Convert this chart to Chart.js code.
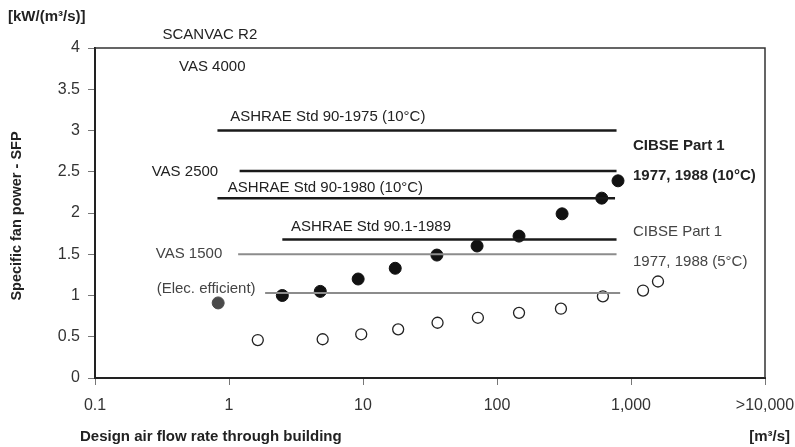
<!DOCTYPE html>
<html lang="en">
<head>
    <meta charset="UTF-8">
    <title>Specific fan power vs design air flow</title>
    <script src="https://cdn.jsdelivr.net/npm/chart.js"></script>
    <style>
        body {
            margin: 0;
            padding: 0;
            background-color: #fff;
        }

        .chart-container {
            width: 795px;
            height: 447px;
        }
    </style>
</head>
<body>
    <div class="chart-container">
        <canvas id="chart"></canvas>
    </div>

    <script>
        // tick values
        const xTicks = [0.1, 1, 10, 100, 1000, 10000];
        const xTickLabels = ['0.1', '1', '10', '100', '1,000', '>10,000'];

        // measured buildings, filled dots (10°C)
        const filledX = [0.83, 2.5, 4.8, 9.2, 17.4, 35.6, 71, 146, 306, 605, 800];
        const filledY = [0.91, 1.0, 1.05, 1.2, 1.33, 1.49, 1.6, 1.72, 1.99, 2.18, 2.39];

        // open circles (5°C)
        const openX = [1.64, 5.0, 9.7, 18.3, 36, 72, 146, 300, 617, 1230, 1590];
        const openY = [0.46, 0.47, 0.53, 0.59, 0.67, 0.73, 0.79, 0.84, 0.99, 1.06, 1.17];

        // reference levels: [from, to, value]
        const blackLevels = [
            [0.82, 780, 3.0],   // ASHRAE Std 90-1975
            [1.2, 780, 2.51],   // VAS 2500
            [0.82, 760, 2.18],  // ASHRAE Std 90-1980
            [2.5, 780, 1.68]    // ASHRAE Std 90.1-1989
        ];
        const greyLevels = [
            [1.17, 780, 1.5],   // VAS 1500
            [1.86, 830, 1.03]   // Elec. efficient
        ];

        // annotations (data coordinates)
        const notes = [
            { text: 'SCANVAC R2', x: 0.72, y: 4.16, align: 'center' },
            { text: 'VAS 4000', x: 0.75, y: 3.77, align: 'center' },
            { text: 'ASHRAE Std 90-1975 (10°C)', x: 1.02, y: 3.16, align: 'left' },
            { text: 'VAS 2500', x: 0.83, y: 2.5, align: 'right' },
            { text: 'ASHRAE Std 90-1980 (10°C)', x: 0.98, y: 2.3, align: 'left' },
            { text: 'ASHRAE Std 90.1-1989', x: 2.9, y: 1.83, align: 'left' },
            { text: 'VAS 1500', x: 0.89, y: 1.5, align: 'right', color: '#444' },
            { text: '(Elec. efficient)', x: 1.58, y: 1.08, align: 'right', color: '#444' },
            { text: 'CIBSE Part 1', x: 1035, y: 2.81, align: 'left', bold: true },
            { text: '1977, 1988 (10°C)', x: 1035, y: 2.45, align: 'left', bold: true },
            { text: 'CIBSE Part 1', x: 1035, y: 1.77, align: 'left', color: '#444' },
            { text: '1977, 1988 (5°C)', x: 1035, y: 1.41, align: 'left', color: '#444' }
        ];

        const FONT = '"Liberation Sans", Arial, sans-serif';

        function levelDataset(level, color, width) {
            return {
                type: 'line',
                data: [{ x: level[0], y: level[2] }, { x: level[1], y: level[2] }],
                borderColor: color,
                borderWidth: width,
                pointRadius: 0,
                fill: false
            };
        }

        const datasets = [];
        blackLevels.forEach(l => datasets.push(levelDataset(l, '#1a1a1a', 2.5)));
        greyLevels.forEach(l => datasets.push(levelDataset(l, '#8c8c8c', 2)));

        datasets.push({
            type: 'scatter',
            data: openX.map((x, i) => ({ x: x, y: openY[i] })),
            pointRadius: 5.5,
            pointBackgroundColor: '#fff',
            pointBorderColor: '#222',
            pointBorderWidth: 1.3
        });
        datasets.push({
            type: 'scatter',
            data: filledX.map((x, i) => ({ x: x, y: filledY[i] })),
            pointRadius: 6,
            pointBackgroundColor: filledX.map((x, i) => i === 0 ? '#4a4a4a' : '#111'),
            pointBorderColor: filledX.map((x, i) => i === 0 ? '#4a4a4a' : '#111'),
            pointBorderWidth: 1
        });

        // frame, annotations and axis titles
        const decorations = {
            id: 'decorations',
            afterDatasetsDraw(chart) {
                const ctx = chart.ctx;
                const area = chart.chartArea;
                const xs = chart.scales.x;
                const ys = chart.scales.y;

                ctx.save();
                ctx.strokeStyle = '#333';
                ctx.lineWidth = 1.5;
                ctx.beginPath();
                ctx.moveTo(area.left, area.top);
                ctx.lineTo(area.right, area.top);
                ctx.lineTo(area.right, area.bottom);
                ctx.stroke();

                ctx.textBaseline = 'middle';
                notes.forEach(n => {
                    ctx.font = (n.bold ? 'bold ' : '') + '15px ' + FONT;
                    ctx.fillStyle = n.color || '#222';
                    ctx.textAlign = n.align;
                    ctx.fillText(n.text, xs.getPixelForValue(n.x), ys.getPixelForValue(n.y));
                });

                ctx.fillStyle = '#222';
                ctx.font = 'bold 15px ' + FONT;
                ctx.textAlign = 'left';
                ctx.fillText('[kW/(m³/s)]', 8, 17);
                ctx.fillText('Design air flow rate through building', 80, 437);
                ctx.textAlign = 'right';
                ctx.fillText('[m³/s]', 790, 437);

                ctx.font = 'bold 14.5px ' + FONT;
                ctx.translate(17, 216);
                ctx.rotate(-Math.PI / 2);
                ctx.textAlign = 'center';
                ctx.fillText('Specific fan power - SFP', 0, 0);
                ctx.restore();
            }
        };

        new Chart(document.getElementById('chart').getContext('2d'), {
            data: { datasets: datasets },
            plugins: [decorations],
            options: {
                responsive: true,
                maintainAspectRatio: false,
                animation: false,
                layout: { padding: { left: 0, right: 30, top: 48, bottom: 0 } },
                plugins: {
                    legend: { display: false },
                    tooltip: { enabled: false }
                },
                scales: {
                    x: {
                        type: 'logarithmic',
                        min: 0.1,
                        max: 10000,
                        afterBuildTicks: function(scale) {
                            scale.ticks = xTicks.map(v => ({ value: v }));
                        },
                        afterFit: function(scale) {
                            scale.height = 69;
                            scale.paddingLeft = 0;
                            scale.paddingRight = 0;
                        },
                        ticks: {
                            autoSkip: false,
                            maxRotation: 0,
                            padding: 11,
                            color: '#333',
                            font: { family: FONT, size: 16 },
                            callback: function(value) {
                                const i = xTicks.indexOf(value);
                                return i >= 0 ? xTickLabels[i] : '';
                            }
                        },
                        grid: {
                            drawOnChartArea: false,
                            tickLength: 7,
                            color: '#777'
                        },
                        border: { color: '#222', width: 2 }
                    },
                    y: {
                        min: 0,
                        max: 4,
                        afterFit: function(scale) {
                            scale.width = 95;
                        },
                        ticks: {
                            stepSize: 0.5,
                            padding: 8,
                            color: '#333',
                            font: { family: FONT, size: 16 },
                            callback: function(value) {
                                return String(value);
                            }
                        },
                        grid: {
                            drawOnChartArea: false,
                            tickLength: 7,
                            color: '#777'
                        },
                        border: { color: '#222', width: 2 }
                    }
                }
            }
        });
    </script>
</body>
</html>
